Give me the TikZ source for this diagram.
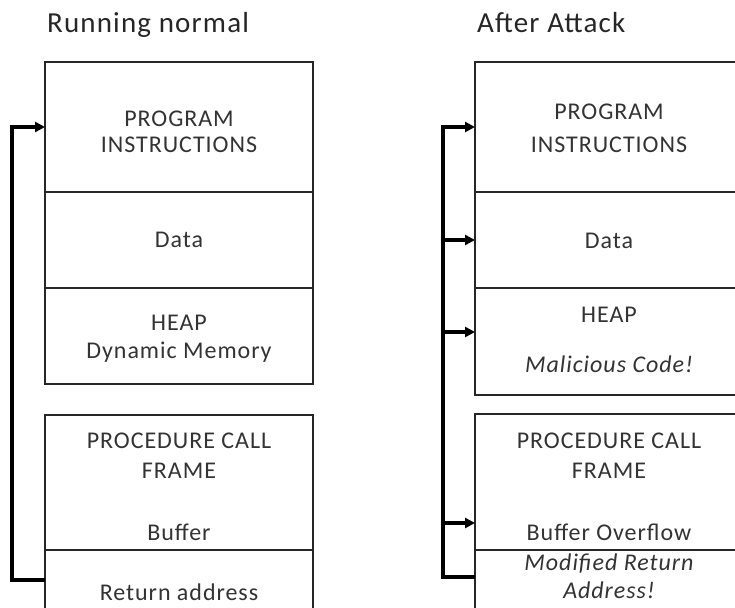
\documentclass[tikz,border=0pt]{standalone}
\usepackage{fontspec}
\setmainfont{Carlito}[LetterSpace=4]
\usetikzlibrary{arrows.meta}
\begin{document}
\begin{tikzpicture}[x=1pt,y=-1pt,
  cell/.style={draw=black!85, line width=1.7pt, anchor=north west, inner sep=0pt, outer sep=0pt, minimum width=268pt},
  lbl/.style={anchor=base, text=black!80, font=\fontsize{24}{28}\selectfont, inner sep=0pt},
  ilbl/.style={lbl, font=\fontsize{24}{28}\selectfont\itshape},
  ttl/.style={anchor=base west, text=black!85, font=\fontsize{29}{33}\selectfont, inner sep=0pt},
  wire/.style={line width=3.6pt, black},
  feed/.style={wire, -{Triangle[length=10pt,width=10pt]}},
]
\clip (0,0) rectangle (735,607);
\fill[white] (0,0) rectangle (735,607);

% column titles
\node[ttl] (ttlL) at (47,33) {Running normal};
\node[ttl] (ttlR) at (477,33) {After Attack};

% memory layout, normal run
\node[cell, minimum height=130pt] (progL) at (45,62) {};
\node[cell, minimum height=96pt]  (dataL) at (45,192) {};
\node[cell, minimum height=96pt]  (heapL) at (45,288) {};
\node[cell, minimum height=135pt] (procL) at (45,415) {};
\node[cell, minimum height=80pt]  (retL)  at (45,550) {};

\node[lbl] (pL1) at (179,126) {PROGRAM};
\node[lbl] (pL2) at (179,152) {INSTRUCTIONS};
\node[lbl] (dL)  at (179,247) {Data};
\node[lbl] (hL1) at (179,330) {HEAP};
\node[lbl] (hL2) at (179,358) {Dynamic Memory};
\node[lbl] (cL1) at (179,448) {PROCEDURE CALL};
\node[lbl] (cL2) at (179,478) {FRAME};
\node[lbl] (bL)  at (179,540) {Buffer};
\node[lbl] (rL)  at (179,600) {Return address};

% memory layout, after the attack
\node[cell, minimum height=130pt] (progR) at (475,62) {};
\node[cell, minimum height=96pt]  (dataR) at (475,192) {};
\node[cell, minimum height=107pt] (heapR) at (475,288) {};
\node[cell, minimum height=136pt] (procR) at (475,414) {};
\node[cell, minimum height=80pt]  (retR)  at (475,550) {};

\node[lbl]  (pR1) at (609,119) {PROGRAM};
\node[lbl]  (pR2) at (609,152) {INSTRUCTIONS};
\node[lbl]  (dR)  at (609,248) {Data};
\node[lbl]  (hR1) at (609,322) {HEAP};
\node[ilbl] (hR2) at (609,372) {Malicious Code!};
\node[lbl]  (cR1) at (609,448) {PROCEDURE CALL};
\node[lbl]  (cR2) at (609,478) {FRAME};
\node[lbl]  (bR)  at (609,540) {Buffer Overflow};
\node[ilbl] (rR1) at (609,570) {Modified Return};
\node[ilbl] (rR2) at (609,598) {Address!};

% return path, normal run
\coordinate (jL0) at (12,580);
\coordinate (jL1) at (12,127);
\draw[feed] (retL.west |- jL0) -- (jL0) -- (jL1) -- (progL.west |- jL1);

% return paths, after the attack
\coordinate (jR0) at (443,577);
\coordinate (jR1) at (443,127);
\coordinate (jR2) at (443,240);
\coordinate (jR3) at (443,332);
\coordinate (jR4) at (443,523);
\draw[feed] (retR.west |- jR0) -- (jR0) -- (jR1) -- (progR.west |- jR1);
\draw[feed] (jR2) -- (dataR.west |- jR2);
\draw[feed] (jR3) -- (heapR.west |- jR3);
\draw[feed] (jR4) -- (procR.west |- jR4);
\end{tikzpicture}
\end{document}
